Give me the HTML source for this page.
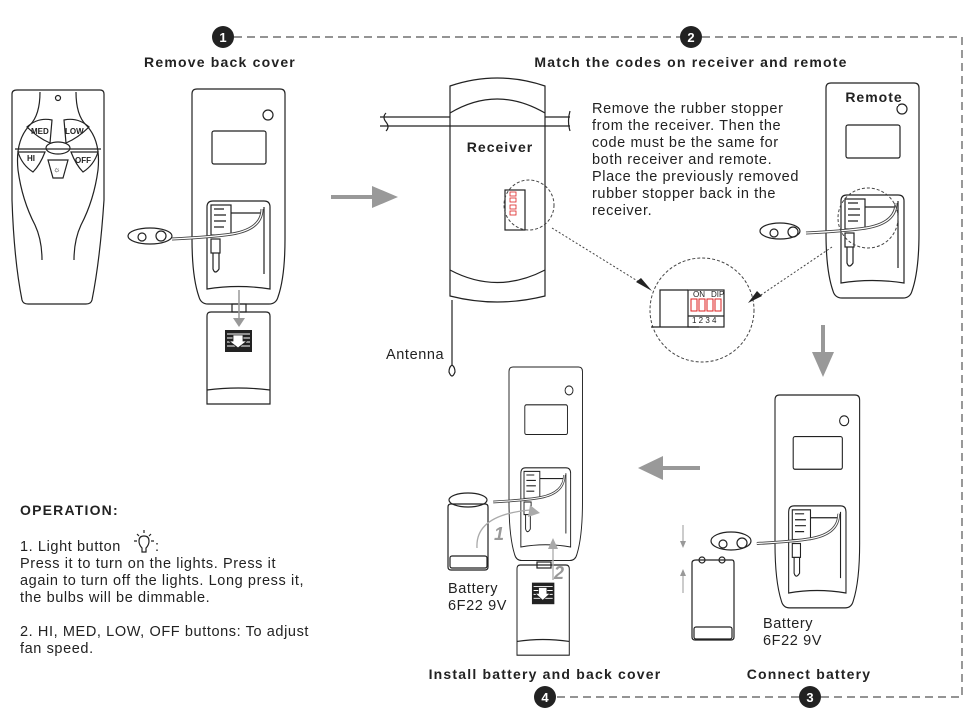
<!DOCTYPE html>
<html><head><meta charset="utf-8"><style>
html,body{margin:0;padding:0;background:#fff;}
svg{display:block;font-family:"Liberation Sans",Arial,sans-serif;}
.t{font-weight:bold;font-size:14px;fill:#222;letter-spacing:1.2px}
.b{font-size:14.5px;fill:#222;letter-spacing:0.6px}
.ln{fill:none;stroke:#222;stroke-width:1.2}
</style></head><body>
<svg width="980" height="713" viewBox="0 0 980 713" xmlns="http://www.w3.org/2000/svg">
<defs>
<g id="rb">
  <path class="ln" d="M5,0 H88 Q93,0 93,5 V150 Q93,188 86,208 Q84,215 77,215 H16 Q9,215 7,208 Q0,188 0,150 V5 Q0,0 5,0 Z"/>
  <circle class="ln" cx="76" cy="26" r="5"/>
  <rect class="ln" x="20" y="42" width="54" height="33" rx="2"/>
  <path class="ln" d="M15,118 Q15,112 21,112 H72 Q78,112 78,118 V200 Q46,195 15,200 Z"/>
  <rect class="ln" x="19" y="116" width="20" height="30"/>
  <path class="ln" d="M22,120 h10 M22,126 h12 M22,132 h12 M22,138 h10"/>
  <path class="ln" d="M39,124 H70 M72,118 V185"/>
  <rect class="ln" x="19" y="150" width="9" height="14"/>
  <path class="ln" d="M21,164 V180 Q23,186 27,180 V164"/>
  <path d="M70,120 Q70,140 40,145 Q20,148 -20,150" fill="none" stroke="#444" stroke-width="3"/>
  <path d="M70,120 Q70,140 40,145 Q20,148 -20,150" fill="none" stroke="#fff" stroke-width="1.2"/>
</g>
<g id="cv">
  <path class="ln" d="M4,0 H59 Q63,0 63,4 V92 H0 V4 Q0,0 4,0 Z"/>
  <path class="ln" d="M0,78 Q31,74 63,78"/>
  <rect x="18" y="18" width="27" height="22" fill="#222"/>
  <path d="M20,22 h23 M20,26 h23 M20,30 h23 M20,34 h23" stroke="#fff" stroke-width="1"/>
  <path d="M26,23 h10 v6 h4 l-9,7 l-9,-7 h4 z" fill="#fff" stroke="#222" stroke-width="0.8"/>
</g>
</defs>

<path d="M234,37 H680 M702,37 H962 V697 H821 M799,697 H556" fill="none" stroke="#555" stroke-width="1.2" stroke-dasharray="8,5"/>
<g font-weight="bold" font-size="13" fill="#fff" text-anchor="middle">
<circle cx="223" cy="37" r="11" fill="#222"/><text x="223" y="42">1</text>
<circle cx="691" cy="37" r="11" fill="#222"/><text x="691" y="42">2</text>
<circle cx="810" cy="697" r="11" fill="#222"/><text x="810" y="702">3</text>
<circle cx="545" cy="697" r="11" fill="#222"/><text x="545" y="702">4</text>
</g>
<text class="t" x="220" y="67" text-anchor="middle">Remove back cover</text>
<text class="t" x="691" y="67" text-anchor="middle">Match the codes on receiver and remote</text>
<text class="t" x="545" y="679" text-anchor="middle">Install battery and back cover</text>
<text class="t" x="809" y="679" text-anchor="middle">Connect battery</text>

<path class="ln" d="M17,90 H100 Q104,90 104,94 V200 Q100,260 92,300 Q91,304 86,304 H28 Q23,304 22,300 Q14,260 12,200 V94 Q12,90 17,90 Z"/>
<circle class="ln" cx="58" cy="98" r="2.5"/>
<path class="ln" d="M40,92 Q40,115 30,125 Q15,140 18,170 Q22,200 35,225 Q42,240 42,260 M76,92 Q76,115 86,125 Q101,140 98,170 Q94,200 81,225 Q74,240 74,260 M15,149 H101"/>
<path class="ln" d="M27,127 Q38,117 52,120 L50,143 Q38,138 27,127Z M89,127 Q78,117 64,120 L66,143 Q78,138 89,127Z M18,152 H45 Q40,165 33,172 Q22,165 18,152Z M98,152 H71 Q76,165 83,172 Q94,165 98,152Z M48,160 L68,160 L63,178 H53 Z"/>
<ellipse class="ln" cx="58" cy="148" rx="12" ry="6"/>
<g font-size="8" font-weight="bold" fill="#222"><text x="31" y="134">MED</text><text x="65" y="134">LOW</text><text x="27" y="161">HI</text><text x="75" y="163">OFF</text></g>
<text x="53" y="172" font-size="8">☼</text>

<use href="#rb" x="192" y="89"/>
<ellipse class="ln" cx="150" cy="236" rx="22" ry="8"/>
<circle class="ln" cx="142" cy="237" r="4"/><circle class="ln" cx="161" cy="236" r="5"/>
<rect class="ln" x="232" y="304" width="14" height="8"/>
<use href="#cv" x="207" y="312"/>
<path d="M239,290 V322" stroke="#999" stroke-width="1.5"/><path d="M233,318 L239,327 L245,318Z" fill="#999"/>
<path d="M331,197 H376" stroke="#999" stroke-width="4"/><path d="M372,186 L398,197 L372,208Z" fill="#999"/>

<path d="M380,117 H450 M380,126 H450 M545,117 H570 M545,126 H570" stroke="#222" stroke-width="1.2"/>
<path class="ln" d="M386,113 Q382,117 386,122 Q390,127 386,131 M570,111 Q567,121 570,131"/>
<path class="ln" d="M450,86 Q497,70 545,86 V296 Q497,308 450,296 Z"/>
<path class="ln" d="M450,113 Q497,85 545,113 M450,126 H545 M450,270 Q497,295 545,270"/>
<text x="500" y="152" font-weight="bold" font-size="14" fill="#222" text-anchor="middle" letter-spacing="1">Receiver</text>
<rect class="ln" x="505" y="190" width="20" height="40"/>
<g fill="#fff" stroke="#d22" stroke-width="0.8"><rect x="510" y="192" width="6" height="4"/><rect x="510" y="198" width="6" height="4"/><rect x="510" y="205" width="6" height="4"/><rect x="510" y="211" width="6" height="4"/></g>
<circle cx="529" cy="205" r="25" fill="none" stroke="#444" stroke-dasharray="3,2"/>
<path class="ln" d="M452,300 V365 Q449,367 449,372 Q452,380 455,372 Q455,367 452,365"/>
<text class="b" x="386" y="359">Antenna</text>
<g class="b"><text x="592" y="113">Remove the rubber stopper</text><text x="592" y="130">from the receiver. Then the</text><text x="592" y="147">code must be the same for</text><text x="592" y="164">both receiver and remote.</text><text x="592" y="181">Place the previously removed</text><text x="592" y="198">rubber stopper back in the</text><text x="592" y="215">receiver.</text></g>

<circle cx="702" cy="310" r="52" fill="#fff" stroke="#444" stroke-dasharray="3,2"/>
<path class="ln" d="M651,327 H699 M660,327 V290 H688"/>
<rect class="ln" x="688" y="290" width="36" height="37" fill="#fff"/>
<path class="ln" d="M688,316 H724"/>
<g fill="#fff" stroke="#d22" stroke-width="1"><rect x="691" y="299" width="6" height="12"/><rect x="699" y="299" width="6" height="12"/><rect x="707" y="299" width="6" height="12"/><rect x="715" y="299" width="6" height="12"/></g>
<g font-size="8" fill="#222"><text x="693" y="297">ON</text><text x="711" y="297">DIP</text><text x="692" y="323">1 2 3 4</text></g>
<path d="M552,228 L644,285" stroke="#444" stroke-dasharray="2,2"/><path d="M636,282 L652,291 L641,278Z" fill="#222"/>
<path d="M832,247 L758,297" stroke="#444" stroke-dasharray="2,2"/><path d="M748,303 L762,296 L757,291Z" fill="#222"/>

<use href="#rb" x="826" y="83"/>
<rect x="828" y="88" width="70" height="18" fill="#fff"/>
<text x="874" y="102" font-weight="bold" font-size="14" fill="#222" text-anchor="middle" letter-spacing="1">Remote</text>
<circle cx="868" cy="218" r="30" fill="none" stroke="#444" stroke-dasharray="3,2"/>
<ellipse class="ln" cx="780" cy="231" rx="20" ry="8"/>
<circle class="ln" cx="774" cy="233" r="4"/><circle class="ln" cx="793" cy="232" r="5"/>
<path d="M823,325 V355" stroke="#999" stroke-width="4"/><path d="M812,352 L823,377 L834,352Z" fill="#999"/>

<use href="#rb" transform="translate(775,395) scale(0.91,0.99)"/>
<ellipse class="ln" cx="731" cy="541" rx="20" ry="9"/>
<circle class="ln" cx="723" cy="544" r="4"/><circle class="ln" cx="742" cy="543" r="5"/>
<path class="ln" d="M696,560 H732 Q734,560 734,563 V637 Q734,640 731,640 H695 Q692,640 692,637 V563 Q692,560 696,560 Z"/>
<rect class="ln" x="694" y="627" width="38" height="12" rx="2"/>
<circle class="ln" cx="702" cy="560" r="3"/><circle class="ln" cx="722" cy="560" r="3"/>
<path d="M683,525 V544 M683,573 V593" stroke="#999" stroke-width="1"/><path d="M680,541 L683,548 L686,541Z M680,576 L683,569 L686,576Z" fill="#999"/>
<text class="b" x="763" y="628">Battery</text><text class="b" x="763" y="645">6F22  9V</text>
<path d="M700,468 H659" stroke="#999" stroke-width="4"/><path d="M663,456 L638,468 L663,480Z" fill="#999"/>

<use href="#rb" transform="translate(509,367) scale(0.79,0.9)"/>
<use href="#cv" transform="translate(517,565) scale(0.83,0.98)"/>
<rect class="ln" x="537" y="562" width="14" height="6"/>
<path class="ln" d="M451,504 H485 Q488,504 488,507 V567 Q488,570 485,570 H451 Q448,570 448,567 V507 Q448,504 451,504 Z"/>
<rect class="ln" x="450" y="556" width="37" height="12" rx="2"/>
<ellipse class="ln" cx="468" cy="500" rx="19" ry="7"/>
<path d="M477,548 Q475,515 530,510" fill="none" stroke="#aaa" stroke-width="1.3"/><path d="M530,505 L540,513 L528,517Z" fill="#aaa"/>
<path d="M553,580 V545" stroke="#aaa" stroke-width="1.3"/><path d="M548,549 L553,538 L558,549Z" fill="#aaa"/>
<text x="494" y="540" font-size="18" font-style="italic" font-weight="bold" fill="#999">1</text>
<text x="554" y="579" font-size="18" font-style="italic" font-weight="bold" fill="#999">2</text>
<text class="b" x="448" y="593">Battery</text><text class="b" x="448" y="610">6F22  9V</text>

<text class="t" x="20" y="515">OPERATION:</text>
<g class="b"><text x="20" y="551">1. Light button</text><text x="20" y="568">Press it to turn on the lights. Press it</text><text x="20" y="585">again to turn off the lights. Long press it,</text><text x="20" y="602">the bulbs will be dimmable.</text><text x="20" y="636">2. HI, MED, LOW, OFF buttons: To adjust</text><text x="20" y="653">fan speed.</text></g>
<g class="ln" transform="translate(6,0)"><path d="M133,541 Q133,536 138,536 Q143,536 143,541 Q143,545 140,548 V552 H136 V548 Q133,545 133,541Z"/><path d="M138,530 V533 M131,534 L133,536 M145,534 L143,536 M128,541 H131 M145,541 H148"/></g>
<text class="b" x="155" y="551">:</text>
</svg>
</body></html>
